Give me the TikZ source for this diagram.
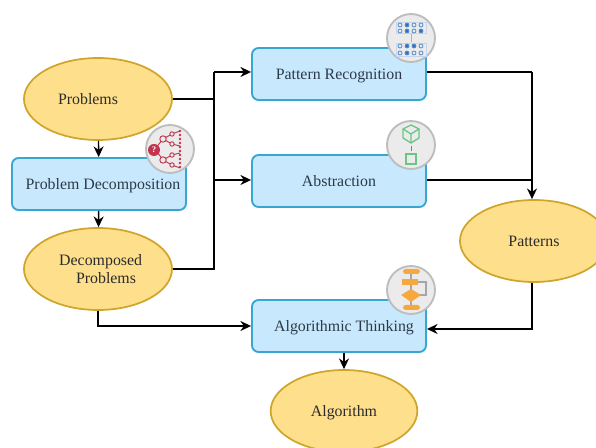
\documentclass[tikz,border=0pt]{standalone}
\usepackage{fontspec}
\setmainfont{Liberation Serif}
\usetikzlibrary{arrows.meta,calc,shapes.geometric}
\definecolor{ellfill}{HTML}{FEDF8C}
\definecolor{ellline}{HTML}{CFA52B}
\definecolor{boxfill}{HTML}{C8E9FD}
\definecolor{boxline}{HTML}{38A6D2}
\definecolor{icofill}{HTML}{EBEBEB}
\definecolor{icoline}{HTML}{BDBDBD}
\definecolor{icored}{HTML}{C2334D}
\definecolor{icoblue}{HTML}{2F6FC0}
\definecolor{icolb}{HTML}{C5D6EE}
\definecolor{icogreen}{HTML}{6CC585}
\definecolor{icoor}{HTML}{F7A83C}
\definecolor{inktext}{HTML}{2B2B2B}
\definecolor{boxtext}{HTML}{2C3A48}
\tikzset{
  ell/.style={draw=ellline,fill=ellfill,line width=1.3pt,shape=ellipse,inner sep=0pt,align=center,text=inktext,minimum width=111pt,minimum height=61.5pt},
  procbox/.style={draw=boxline,fill=boxfill,line width=1.4pt,rounded corners=5pt,minimum width=130.5pt,minimum height=39pt,inner sep=0pt,align=center,text=boxtext,text height=9pt,text depth=0pt},
  oneline/.style={text height=9pt,text depth=0pt},
  conn/.style={draw=black,line width=1.05pt},
  arr/.style={conn,-{Stealth[length=8pt,width=7.5pt]}},
  ico/.style={draw=icoline,fill=icofill,line width=1.4pt,circle,minimum size=36pt,inner sep=0pt},
  lab/.style={font=\fontsize{11.9}{14}\selectfont}
}
\begin{document}
\begin{tikzpicture}[x=0.75pt,y=-0.75pt,lab]
\useasboundingbox (0,0) rectangle (596,448);
\clip (0,0) rectangle (596,448);
% junction coordinates
\coordinate (j2) at (214,269);
\coordinate (j3) at (214,72);
\coordinate (j4) at (214,180);
\coordinate (k1) at (532,72);
\coordinate (k2) at (532,180);
\coordinate (m1) at (98,326);
\coordinate (m2) at (532,329);
% nodes
\node[ell,oneline] (prob) at (98,99) {Problems\hspace*{15pt}};
\node[procbox] (pd) at (99,184) {\hspace*{6pt}Problem Decomposition};
\node[ell] (dec) at (98,269) {\hspace*{4pt}Decomposed\\\hspace*{12pt}Problems};
\node[procbox] (pr) at (339,74) {Pattern Recognition};
\node[procbox] (ab) at (339,181) {Abstraction};
\node[procbox] (at) at (339,326) {\hspace*{7.5pt}Algorithmic Thinking};
\node[ell,oneline] (pat) at (534,241) {Patterns};
\node[ell,oneline,minimum width=110pt] (alg) at (344,411) {Algorithm};
% connectors
\draw[arr] (prob) -- (pd);
\draw[arr] (pd) -- (dec);
\draw[conn] (prob.east) -- (prob.east-|j3);
\draw[conn] (dec.east) -- (j2) -- (j3);
\draw[arr] (j3) -- (j3-|pr.west);
\draw[arr] (j4) -- (j4-|ab.west);
\draw[arr] (dec.south) -- (m1) -- (m1-|at.west);
\draw[conn] (pr.east|-k1) -- (k1);
\draw[arr] (k1) -- (k1|-pat.north);
\draw[conn] (ab.east|-k2) -- (k2);
\draw[arr] (m2|-pat.south) -- (m2) -- (m2-|at.east);
\draw[arr] (at.south-|alg) -- (alg.north);
% icon: decomposition
\node[ico] (i1) at (170,149) {};
\begin{scope}[icored,line width=0.7pt]
 \draw (155,149) -- (163,139) -- (172,134) -- (180,131);
 \draw (163,139) -- (172,144) -- (180,146);
 \draw (155,149) -- (163,160) -- (172,155) -- (180,153);
 \draw (163,160) -- (172,165) -- (180,168);
 \foreach \p in {(163,139),(163,160)} \draw[fill=icofill] \p circle (3.2);
 \foreach \p in {(172,134),(172,144),(172,155),(172,165)} \draw[fill=icofill] \p circle (2.2);
 \foreach \y in {131,135,139,143,147,151,155,159,163,167} \fill (180,\y) circle (1.3);
 \fill (154,150) circle (6);
 \node[white,font=\bfseries\fontsize{6.5}{7}\selectfont] at (154,150) {?};
\end{scope}
% icon: pattern
\node[ico] (i2) at (411,38) {};
\begin{scope}[line width=0.6pt]
 \draw[icolb] (396,22) rectangle (426,33);
 \draw[icolb] (396,43) rectangle (426,56);
 \draw[icolb!60!gray] (411,34) -- (411,42);
 \foreach \x/\y/\f in {400/25/icofill,407/25/icoblue,414/25/icofill,421/25/icofill,
   400/31/icofill,407/31/icoblue,414/31/icofill,421/31/icoblue,
   400/46/icofill,407/46/icoblue,414/46/icoblue,421/46/icofill,
   400/53/icofill,407/53/icoblue,414/53/icofill,421/53/icofill}
   \draw[icoblue!80!white,fill=\f] (\x,\y) circle (2);
\end{scope}
% icon: abstraction
\node[ico] (i3) at (411,145) {};
\begin{scope}[icogreen,line width=1pt]
 \draw (411,125) -- (419,129) -- (419,138) -- (411,143) -- (403,138) -- (403,129) -- cycle;
 \draw (403,129) -- (411,134) -- (419,129) (411,134) -- (411,143);
 \draw (406,154) rectangle (416,164);
 \draw[gray,line width=0.5pt] (411,146) -- (411,151);
\end{scope}
% icon: flowchart
\node[ico] (i4) at (411,290) {};
\begin{scope}
 \draw[gray!70,line width=0.8pt] (411,272) -- (411,308);
 \draw[gray!70,line width=0.8pt] (418,282) -- (426,282) -- (426,295) -- (419,295);
 \fill[icoor,rounded corners=2pt] (403,269) rectangle (420,274);
 \fill[icoor] (402,279) rectangle (418,285);
 \fill[icoor] (411,289) -- (421,295) -- (411,302) -- (401,295) -- cycle;
 \fill[icoor,rounded corners=2pt] (403,305) rectangle (420,310);
\end{scope}
\end{tikzpicture}
\end{document}
